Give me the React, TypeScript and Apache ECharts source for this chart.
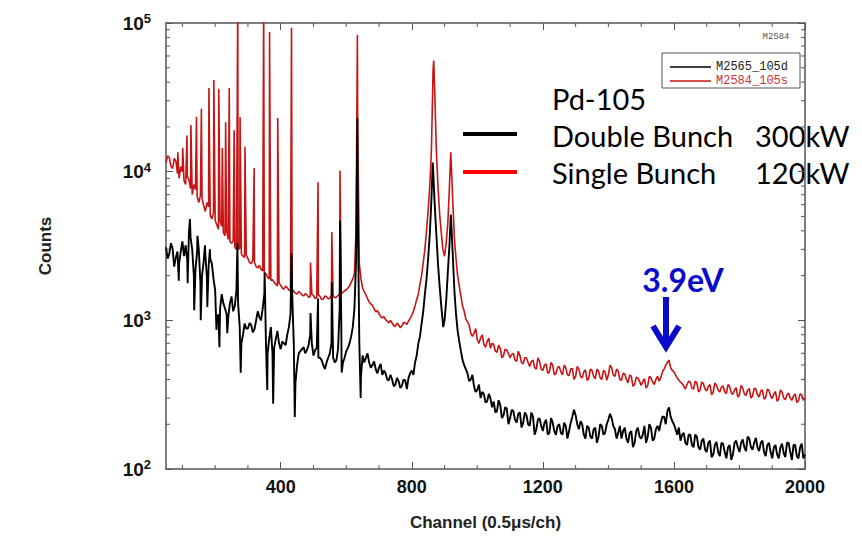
import React, { useEffect, useRef } from "react";
import * as echarts from "echarts";

// ---- data ----
const CH_START = 50; // channels 50, 60, ... 2000
const MID_START = 55; // channels 55, 65, ... 1995
const CH_STEP = 10;
const X_MIN = 50;
const X_MAX = 2000;
const Y_MIN = 100;
const Y_MAX = 100000;

const X_LABELS = [400, 800, 1200, 1600, 2000];
const X_MINOR = [100, 200, 300, 500, 600, 700, 900, 1000, 1100, 1300, 1400, 1500, 1700, 1800, 1900];
const Y_TICK_EXP: Record<string, string> = { "100": "2", "1000": "3", "10000": "4", "100000": "5" };
const Y_MINOR = [
  200, 300, 400, 500, 600, 700, 800, 900,
  2000, 3000, 4000, 5000, 6000, 7000, 8000, 9000,
  20000, 30000, 40000, 50000, 60000, 70000, 80000, 90000,
];

// Single bunch (red), channels 50..2000 every 10
const redBase = [
  11500, 12500, 10500, 11800, 9000, 10000, 8200, 8800, 7000, 7600,
  6200, 6600, 5400, 5800, 4800, 4700, 4100, 4300, 3700, 3500,
  3300, 3100, 3000, 2800, 2650, 2600, 2400, 2450, 2250, 2200,
  2100, 1950, 1850, 1800, 1700, 1720, 1620, 1660, 1580, 1560,
  1500, 1530, 1460, 1490, 1440, 1470, 1420, 1450, 1390, 1440,
  1410, 1470, 1430, 1500, 1540, 1600, 1700, 1900, 4000, 2400,
  1650, 1480, 1330, 1260, 1140, 1110, 1040, 1010, 960, 960,
  910, 930, 920, 960, 990, 1080, 1250, 1500, 2000, 3000,
  5500, 14000, 35000, 8000, 3900, 2700, 4500, 12000, 3600, 2000,
  1450, 1150, 980, 820, 820, 740, 760, 690, 720, 650,
  690, 610, 650, 580, 630, 560, 600, 530, 580, 510,
  560, 490, 540, 470, 530, 460, 510, 450, 500, 440,
  490, 430, 480, 425, 475, 420, 470, 410, 465, 405,
  460, 405, 455, 400, 450, 430, 480, 420, 455, 395,
  435, 380, 420, 370, 410, 365, 405, 365, 410, 370,
  420, 410, 470, 520, 480, 450, 410, 385, 360, 370,
  385, 345, 380, 340, 375, 335, 370, 330, 365, 330,
  362, 322, 358, 318, 352, 315, 350, 312, 348, 310,
  345, 305, 340, 302, 338, 298, 332, 296, 330, 292,
  325, 290, 320, 288, 315, 300,
];

// Single bunch (red), channels 55..1995 every 10
const redMid = [
  12800, 10900, 12300, 9700, 10800, 8700, 9300, 7700, 8200, 6800,
  6900, 5900, 6200, 5100, 5300, 4400, 4600, 3900, 4000, 3400,
  3400, 3000, 3050, 2700, 2750, 2450, 2550, 2300, 2350, 2150,
  2050, 1900, 1880, 1750, 1780, 1650, 1700, 1600, 1620, 1520,
  1560, 1480, 1510, 1430, 1500, 1400, 1480, 1380, 1460, 1400,
  1480, 1420, 1470, 1520, 1580, 1650, 1800, 2050, 20000, 1900,
  1560, 1400, 1290, 1200, 1160, 1060, 1060, 990, 1000, 920,
  960, 890, 970, 940, 1030, 1150, 1380, 1750, 2450, 4000,
  8000, 48000, 14000, 5200, 3000, 3300, 8000, 6500, 2600, 1700,
  1250, 1020, 930, 780, 880, 700, 800, 660, 760, 700,
  620, 680, 560, 640, 600, 590, 540, 620, 520, 560,
  520, 530, 480, 560, 470, 500, 440, 520, 430, 480,
  450, 500, 430, 470, 400, 490, 420, 450, 395, 470,
  420, 470, 410, 460, 395, 500, 430, 470, 400, 440,
  400, 430, 360, 415, 390, 385, 350, 420, 385, 400,
  390, 450, 500, 540, 460, 430, 395, 375, 345, 390,
  350, 390, 330, 385, 345, 360, 315, 380, 340, 355,
  330, 370, 325, 340, 305, 365, 320, 340, 300, 350,
  315, 335, 295, 345, 310, 320, 285, 340, 300, 315,
  300, 310, 280, 320, 290,
];

// Double bunch (black), channels 50..2000 every 10
const blackBase = [
  3100, 2800, 3050, 2650, 2400, 3400, 3200, 3900, 3000, 2200,
  3000, 2000, 2800, 2300, 2400, 1600, 1100, 1500, 1200, 1050,
  1450, 1250, 1300, 700, 950, 880, 930, 870, 1150, 1000,
  1500, 600, 900, 650, 850, 640, 700, 800, 1100, 700,
  500, 620, 660, 630, 800, 580, 650, 560, 500, 520,
  600, 560, 540, 1200, 520, 620, 700, 900, 2500, 700,
  580, 560, 520, 500, 470, 480, 430, 440, 395, 400,
  370, 390, 365, 395, 410, 460, 520, 700, 950, 1500,
  2600, 6500, 6000, 2400, 1250, 1000, 2100, 4800, 1600, 850,
  620, 500, 440, 400, 360, 340, 300, 320, 285, 300,
  285, 245, 270, 230, 255, 220, 245, 205, 240, 205,
  230, 195, 225, 185, 220, 180, 215, 175, 205, 170,
  200, 170, 195, 180, 225, 230, 185, 200, 160, 190,
  160, 190, 165, 195, 175, 215, 220, 185, 175, 160,
  190, 150, 180, 150, 190, 160, 195, 165, 190, 160,
  195, 205, 225, 245, 225, 200, 170, 155, 175, 145,
  170, 140, 165, 135, 160, 130, 155, 125, 152, 122,
  148, 118, 145, 125, 155, 130, 158, 132, 160, 135,
  162, 132, 155, 122, 150, 118, 145, 118, 148, 120,
  150, 115, 145, 118, 148, 125,
];

// Double bunch (black), channels 55..1995 every 10
const blackMid = [
  2600, 3300, 2300, 2900, 2900, 2700, 2500, 3600, 2000, 2900,
  1800, 2500, 1900, 2600, 1900, 1000, 1200, 1300, 1100, 1300,
  1150, 1600, 900, 800, 880, 960, 830, 1000, 1050, 1200,
  700, 750, 600, 750, 700, 720, 680, 900, 1500, 380,
  600, 640, 600, 680, 700, 630, 560, 540, 470, 560,
  700, 520, 640, 900, 560, 650, 780, 1200, 6000, 420,
  520, 600, 480, 530, 440, 510, 460, 400, 430, 360,
  410, 350, 400, 345, 440, 430, 580, 780, 1150, 1900,
  3800, 10500, 3800, 1700, 950, 1350, 3200, 2800, 1100, 720,
  540, 470, 390, 430, 330, 370, 330, 280, 320, 260,
  240, 290, 220, 260, 200, 250, 215, 235, 190, 240,
  200, 240, 170, 215, 195, 205, 170, 220, 180, 195,
  175, 205, 160, 205, 250, 200, 210, 170, 195, 165,
  185, 150, 200, 170, 200, 235, 195, 160, 195, 180,
  160, 175, 140, 180, 165, 170, 150, 200, 155, 185,
  180, 225, 200, 260, 210, 185, 190, 170, 150, 170,
  145, 170, 140, 155, 135, 150, 120, 145, 130, 150,
  130, 140, 115, 150, 140, 150, 140, 165, 140, 150,
  140, 150, 130, 145, 130, 140, 125, 140, 128, 150,
  130, 145, 122, 140, 118,
];

// narrow resonance spikes and dips [channel, counts]
const redSpikes: [number, number][] = [
  [86, 13500], [101, 14500], [114, 17500], [126, 20600], [143, 23400], [158, 26500],
  [181, 36600], [196, 41400], [211, 36000], [222, 14400], [232, 21500], [243, 36600],
  [258, 19000], [269, 150000], [276, 23300], [291, 14700], [319, 10600], [348, 150000],
  [366, 87000], [391, 23000], [433, 93000], [491, 2450], [514, 8500], [556, 3930],
  [581, 10200], [634, 83000], [867, 56000], [919, 13500],
];

const blackSpikes: [number, number][] = [
  [89, 1850], [116, 1780], [123, 4800], [136, 1170], [146, 3700], [156, 1000],
  [169, 3200], [176, 1230], [184, 3000], [204, 860], [213, 660], [237, 820],
  [268, 3300], [278, 445], [351, 2100], [359, 340], [377, 275], [433, 2830],
  [443, 224], [491, 1120], [514, 1400], [556, 1800], [581, 4700], [586, 445],
  [634, 23000], [644, 300], [864, 11500], [896, 900], [919, 5150],
];

const SERIES_RED = "M2584_105s";
const SERIES_BLACK = "M2565_105d";

function buildData(base: number[], mid: number[], extra: [number, number][]) {
  const a: [number, number][] = base.map((v, i) => [CH_START + i * CH_STEP, v]);
  const b: [number, number][] = mid.map((v, i) => [MID_START + i * CH_STEP, v]);
  return a.concat(b, extra).sort((p, q) => p[0] - q[0]);
}

const AXIS_FONT = "Liberation Sans";
const AXIS_COLOR = "#555";

export default function App() {
  const ref = useRef<HTMLDivElement>(null);

  useEffect(() => {
    document.body.style.margin = "0";
    if (!ref.current) return;
    const chart = echarts.init(ref.current, undefined, { renderer: "svg" });

    const xAxisCommon = {
      type: "value" as const,
      min: X_MIN,
      max: X_MAX,
      splitLine: { show: false },
      axisLine: { show: true, onZero: false, lineStyle: { color: AXIS_COLOR, width: 1.5 } },
      axisTick: { show: true, inside: true, length: 7, customValues: X_LABELS, lineStyle: { color: AXIS_COLOR, width: 1 } },
    };
    const yAxisCommon = {
      type: "log" as const,
      logBase: 10,
      min: Y_MIN,
      max: Y_MAX,
      splitLine: { show: false },
      axisLine: { show: true, onZero: false, lineStyle: { color: AXIS_COLOR, width: 1.5 } },
      axisTick: { show: true, inside: true, length: 7, lineStyle: { color: AXIS_COLOR, width: 1 } },
    };

    const option: any = {
      animation: false,
      grid: { left: 166, top: 23, right: 57, bottom: 78, containLabel: false },
      legend: {
        left: 662,
        top: 53,
        orient: "vertical",
        selectedMode: false,
        icon: "rect",
        itemWidth: 41,
        itemHeight: 1.5,
        itemGap: 2,
        padding: [8, 12, 1, 8],
        borderColor: "#555",
        borderWidth: 1,
        backgroundColor: "#fff",
        textStyle: { fontFamily: "Liberation Mono", fontSize: 12, lineHeight: 12 },
        data: [
          { name: SERIES_BLACK, textStyle: { color: "#222" } },
          { name: SERIES_RED, textStyle: { color: "#cc3333" } },
        ],
      },
      xAxis: [
        {
          ...xAxisCommon,
          position: "bottom",
          name: "Channel (0.5\u03bcs/ch)",
          nameLocation: "middle",
          nameGap: 45,
          nameTextStyle: { fontFamily: AXIS_FONT, fontSize: 17, fontWeight: "bold", color: "#222" },
          axisLabel: {
            customValues: X_LABELS,
            margin: 9,
            formatter: (v: number) => String(v),
            fontFamily: AXIS_FONT,
            fontSize: 18,
            fontWeight: "bold",
            color: "#111",
          },
        },
        {
          ...xAxisCommon,
          position: "top",
          axisLabel: { show: false },
        },
      ],
      yAxis: [
        {
          ...yAxisCommon,
          position: "left",
          name: "Counts",
          nameLocation: "middle",
          nameGap: 112,
          nameTextStyle: { fontFamily: AXIS_FONT, fontSize: 17, fontWeight: "bold", color: "#222" },
          axisLabel: {
            margin: 15,
            formatter: (v: number) => {
              const key = String(Math.round(v));
              return `{b|10}{s|${Y_TICK_EXP[key] ?? ""}}`;
            },
            rich: {
              b: { fontFamily: AXIS_FONT, fontSize: 19, fontWeight: "bold", color: "#111", lineHeight: 22 },
              s: { fontFamily: AXIS_FONT, fontSize: 13, fontWeight: "bold", color: "#111", lineHeight: 12, verticalAlign: "top" },
            },
          },
        },
        {
          ...yAxisCommon,
          position: "right",
          axisLabel: { show: false },
        },
      ],
      series: [
        {
          name: SERIES_RED,
          type: "line",
          data: buildData(redBase, redMid, redSpikes),
          showSymbol: false,
          symbol: "none",
          clip: true,
          lineStyle: { color: "#c81414", width: 1.6 },
          itemStyle: { color: "#c81414" },
          z: 2,
        },
        {
          name: SERIES_BLACK,
          type: "line",
          data: buildData(blackBase, blackMid, blackSpikes),
          showSymbol: false,
          symbol: "none",
          clip: true,
          lineStyle: { color: "#000", width: 1.9 },
          itemStyle: { color: "#000" },
          z: 3,
        },
        {
          type: "custom",
          silent: true,
          data: Y_MINOR.map((v) => [X_MIN, v]),
          renderItem: (params: any, api: any) => {
            const p = api.coord([api.value(0), api.value(1)]);
            const xr = params.coordSys.x + params.coordSys.width;
            const st = { stroke: AXIS_COLOR, lineWidth: 1 };
            return {
              type: "group",
              children: [
                { type: "line", shape: { x1: p[0], y1: p[1], x2: p[0] + 4, y2: p[1] }, style: st },
                { type: "line", shape: { x1: xr - 4, y1: p[1], x2: xr, y2: p[1] }, style: st },
              ],
            };
          },
          z: 5,
        },
        {
          type: "custom",
          silent: true,
          data: X_MINOR.map((c) => [c, Y_MIN]),
          renderItem: (params: any, api: any) => {
            const p = api.coord([api.value(0), api.value(1)]);
            const yt = params.coordSys.y;
            const st = { stroke: AXIS_COLOR, lineWidth: 1 };
            return {
              type: "group",
              children: [
                { type: "line", shape: { x1: p[0], y1: p[1], x2: p[0], y2: p[1] - 4 }, style: st },
                { type: "line", shape: { x1: p[0], y1: yt, x2: p[0], y2: yt + 4 }, style: st },
              ],
            };
          },
          z: 5,
        },
      ],
      graphic: [
        {
          type: "text",
          x: 776,
          y: 37,
          style: { text: "M2584", fontFamily: "Liberation Mono", fontSize: 9, fill: "#555", align: "center", verticalAlign: "middle" },
        },
        {
          type: "text",
          x: 552,
          y: 98,
          style: { text: "Pd-105", fontFamily: "Lato", fontSize: 29, fill: "#000", align: "left", verticalAlign: "middle" },
        },
        { type: "rect", shape: { x: 463, y: 132, width: 54, height: 4 }, style: { fill: "#000" } },
        {
          type: "text",
          x: 552,
          y: 135,
          style: { text: "Double Bunch", fontFamily: "Lato", fontSize: 29, fill: "#000", align: "left", verticalAlign: "middle" },
        },
        {
          type: "text",
          x: 755,
          y: 135,
          style: { text: "300kW", fontFamily: "Lato", fontSize: 29, fill: "#000", align: "left", verticalAlign: "middle" },
        },
        { type: "rect", shape: { x: 463, y: 170, width: 54, height: 4 }, style: { fill: "#ff0000" } },
        {
          type: "text",
          x: 552,
          y: 172,
          style: { text: "Single Bunch", fontFamily: "Lato", fontSize: 29, fill: "#000", align: "left", verticalAlign: "middle" },
        },
        {
          type: "text",
          x: 755,
          y: 172,
          style: { text: "120kW", fontFamily: "Lato", fontSize: 29, fill: "#000", align: "left", verticalAlign: "middle" },
        },
        {
          type: "text",
          x: 683,
          y: 279,
          style: { text: "3.9eV", fontFamily: "Lato", fontSize: 32, fontWeight: "bold", fill: "#0a0acc", align: "center", verticalAlign: "middle" },
        },
        { type: "line", shape: { x1: 666, y1: 297, x2: 666, y2: 345 }, style: { stroke: "#0a0acc", lineWidth: 6 } },
        {
          type: "polyline",
          shape: { points: [[653, 326], [666, 347], [679, 326]] },
          style: { stroke: "#0a0acc", lineWidth: 6, fill: null },
        },
      ],
    };

    chart.setOption(option);
    return () => chart.dispose();
  }, []);

  return <div ref={ref} style={{ width: 862, height: 547 }} />;
}
